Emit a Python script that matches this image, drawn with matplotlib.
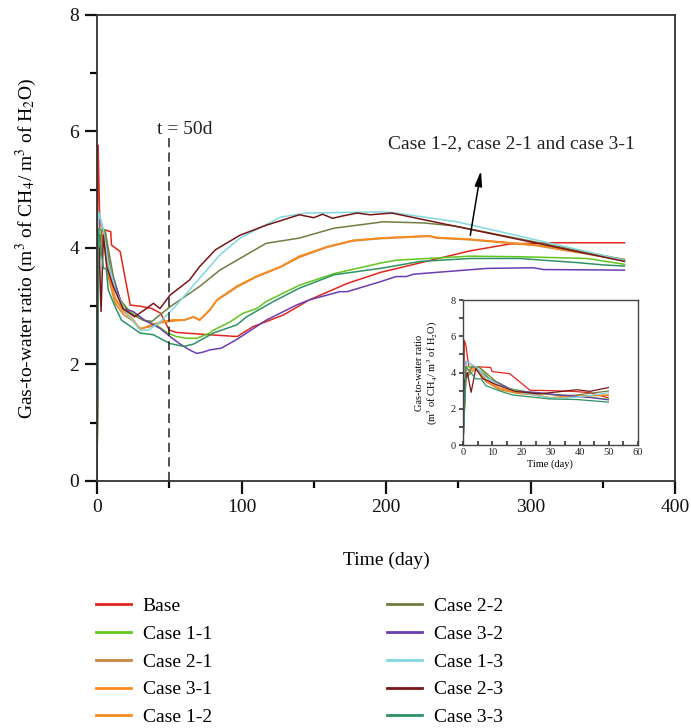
import matplotlib
matplotlib.use("Agg")
import matplotlib.pyplot as plt
from matplotlib.patches import Rectangle
from matplotlib.ticker import MultipleLocator

plt.rcParams['font.family'] = ['Liberation Serif', 'DejaVu Serif']
plt.rcParams['mathtext.fontset'] = 'stix'

# data (time in days, ratio)
base_t = [0, 0.5, 1, 2, 5.5, 9.5, 10, 16, 23, 30, 38, 44, 50, 55, 78, 97, 108, 129, 147, 173, 196, 258, 286, 315, 365]
base_v = [0, 5.77, 5.5, 4.31, 4.31, 4.28, 4.05, 3.94, 3.02, 3.00, 2.96, 2.88, 2.59, 2.55, 2.51, 2.48, 2.65, 2.85, 3.11, 3.39, 3.58, 3.95, 4.07, 4.09, 4.09]

c11_t = [0, 1, 5.5, 9, 16, 22.8, 32, 41, 49, 55, 62, 69, 78, 80.5, 92, 101, 110.5, 117, 140, 164, 196, 207, 258, 293, 339, 365]
c11_v = [0, 4.33, 4.31, 3.68, 3.11, 2.91, 2.76, 2.68, 2.54, 2.48, 2.45, 2.45, 2.54, 2.59, 2.73, 2.88, 2.96, 3.08, 3.36, 3.56, 3.74, 3.79, 3.86, 3.85, 3.82, 3.72]

c21_t = [0, 1, 4.4, 7.8, 12.5, 18.2, 24, 29.8, 35.5, 44.7, 54, 60, 66.7, 71, 78, 83, 97, 110, 127, 140, 159, 177, 196, 230, 235, 258, 304, 365]
c21_v = [0, 3.7, 4.22, 3.50, 3.05, 2.86, 2.76, 2.62, 2.64, 2.72, 2.75, 2.76, 2.81, 2.76, 2.93, 3.10, 3.33, 3.50, 3.67, 3.84, 4.01, 4.12, 4.16, 4.20, 4.17, 4.14, 4.04, 3.79]

c31_t = [0, 1, 4.4, 7.8, 12.5, 18.2, 24, 29.8, 35.5, 44.7, 54, 60, 66.7, 71, 78, 83, 97, 110, 127, 140, 159, 177, 196, 230, 235, 258, 304, 365]
c31_v = [0, 3.9, 4.29, 3.57, 3.11, 2.91, 2.79, 2.60, 2.66, 2.73, 2.76, 2.76, 2.82, 2.76, 2.94, 3.11, 3.34, 3.51, 3.68, 3.85, 4.02, 4.13, 4.17, 4.21, 4.18, 4.15, 4.05, 3.80]

c12_t = [0, 1, 4.4, 7.8, 12.5, 18.2, 24, 29.8, 35.5, 44.7, 54, 60, 66.7, 71, 78, 83, 97, 110, 127, 140, 159, 177, 196, 230, 235, 258, 304, 365]
c12_v = [0, 4.1, 4.32, 3.62, 3.15, 2.93, 2.80, 2.61, 2.66, 2.74, 2.77, 2.76, 2.82, 2.77, 2.94, 3.11, 3.35, 3.51, 3.68, 3.86, 4.02, 4.13, 4.17, 4.21, 4.18, 4.15, 4.05, 3.80]

c22_t = [0, 1, 3, 5.5, 11.3, 16, 22.8, 32, 38, 50.5, 64, 71, 85, 101, 117, 140, 164, 189, 198, 226, 247, 365]
c22_v = [0, 3.6, 4.3, 4.31, 3.51, 3.11, 2.88, 2.76, 2.74, 2.99, 3.22, 3.34, 3.62, 3.85, 4.08, 4.17, 4.34, 4.42, 4.45, 4.43, 4.38, 3.80]

c32_t = [0, 1, 4.4, 9, 18.2, 25, 33, 43.6, 50.5, 57, 64, 69, 73, 78, 86, 96.7, 117, 138, 147, 168, 173, 196, 207, 214, 219, 270, 302, 309, 365]
c32_v = [0, 4.62, 4.29, 3.62, 2.96, 2.91, 2.76, 2.62, 2.48, 2.36, 2.25, 2.19, 2.21, 2.25, 2.28, 2.43, 2.76, 3.02, 3.11, 3.25, 3.25, 3.42, 3.51, 3.51, 3.55, 3.65, 3.66, 3.63, 3.62]

c13_t = [0, 1, 4.4, 7.8, 13.6, 20.5, 29.8, 35.5, 43.6, 52.8, 64, 71, 85, 99, 120, 127, 145, 196, 204, 249, 365]
c13_v = [0, 4.62, 4.31, 3.74, 3.22, 2.88, 2.59, 2.59, 2.73, 2.96, 3.28, 3.48, 3.88, 4.17, 4.44, 4.53, 4.60, 4.62, 4.61, 4.45, 3.79]

c23_t = [0, 0.5, 1.5, 2.8, 4.4, 6.7, 11.3, 18, 26, 33, 39, 43.6, 50.5, 64, 71, 82, 99, 117, 140, 150, 156, 163, 170, 180, 189, 204, 365]
c23_v = [0, 3.5, 4.0, 2.91, 4.22, 3.68, 3.34, 2.96, 2.82, 2.94, 3.05, 2.96, 3.19, 3.45, 3.68, 3.97, 4.22, 4.39, 4.57, 4.52, 4.58, 4.51, 4.55, 4.60, 4.57, 4.60, 3.77]

c33_t = [0, 1, 4.4, 6.3, 7.8, 12.5, 17, 21.7, 29.8, 39, 50.5, 60, 66.7, 80.5, 96.7, 103.6, 122, 140, 164, 196, 224, 258, 293, 309, 332, 350, 365]
c33_v = [0, 4.33, 3.65, 3.65, 3.28, 2.99, 2.76, 2.68, 2.54, 2.51, 2.36, 2.31, 2.35, 2.54, 2.68, 2.82, 3.08, 3.31, 3.54, 3.65, 3.77, 3.82, 3.82, 3.79, 3.75, 3.71, 3.69]

labels = ['Base', 'Case 1-1', 'Case 2-1', 'Case 3-1', 'Case 1-2',
          'Case 2-2', 'Case 3-2', 'Case 1-3', 'Case 2-3', 'Case 3-3']
series = [(base_t, base_v), (c11_t, c11_v), (c21_t, c21_v), (c31_t, c31_v), (c12_t, c12_v),
          (c22_t, c22_v), (c32_t, c32_v), (c13_t, c13_v), (c23_t, c23_v), (c33_t, c33_v)]
colors = ['#e2261c', '#62c61e', '#c98640', '#ff8a1c', '#f78c20',
          '#717d3f', '#6a3db3', '#82d8e0', '#7a1518', '#2e9266']

FS = 14

fig = plt.figure(figsize=(6.91, 7.28), dpi=100)
ax = fig.add_axes([0.1404, 0.3393, 0.8365, 0.6401])

lines = []
for (t, v), c, lab in zip(series, colors, labels):
    ln, = ax.plot(t, v, color=c, lw=1.1, label=lab)
    lines.append(ln)

ax.plot([50, 50], [0, 5.95], color='#222222', lw=1.1, dashes=(6, 3.5))
ax.text(61, 6.03, 't = 50d', fontsize=FS, ha='center', va='center', color='#222222')
ax.text(287, 5.8, 'Case 1-2, case 2-1 and case 3-1', fontsize=FS, ha='center', va='center', color='#222222')
ax.annotate('', xy=(266, 5.37), xytext=(258, 4.17),
            arrowprops=dict(arrowstyle='-|>,head_length=0.9,head_width=0.22', color='black', lw=1.1))

ax.set_xlim(0, 400)
ax.set_ylim(0, 8)
ax.xaxis.set_major_locator(MultipleLocator(100))
ax.xaxis.set_minor_locator(MultipleLocator(50))
ax.yaxis.set_major_locator(MultipleLocator(2))
ax.yaxis.set_minor_locator(MultipleLocator(1))
ax.tick_params(which='major', direction='out', length=9, width=1.6, labelsize=FS, colors='#111111', pad=4)
ax.tick_params(which='minor', direction='out', length=5, width=1.6)
for s in ax.spines.values():
    s.set_linewidth(1.3)
    s.set_color('#333333')
ax.set_xlabel('Time (day)', fontsize=FS, labelpad=26)
ax.set_ylabel('Gas-to-water ratio (m$^3$ of CH$_4$/ m$^3$ of H$_2$O)', fontsize=FS, labelpad=22)

# inset with the first 50 days
ins = fig.add_axes([0.670, 0.3887, 0.253, 0.1992])
for (t, v), c in zip(series, colors):
    ln, = ins.plot(t, v, color=c, lw=0.9)
    ln.set_clip_path(Rectangle((0, 0), 50, 8, transform=ins.transData))
ins.set_xlim(0, 60)
ins.set_ylim(0, 8)
ins.xaxis.set_major_locator(MultipleLocator(10))
ins.xaxis.set_minor_locator(MultipleLocator(5))
ins.yaxis.set_major_locator(MultipleLocator(2))
ins.yaxis.set_minor_locator(MultipleLocator(1))
ins.tick_params(axis='y', which='both', direction='out', length=3, width=1.1, labelsize=7.5, pad=2, colors='#222222')
ins.tick_params(axis='x', which='both', direction='in', length=3, width=1.1, labelsize=7.5, pad=2, colors='#222222')
for s in ins.spines.values():
    s.set_linewidth(1.0)
    s.set_color('#444444')
ins.set_xlabel('Time (day)', fontsize=7.5, labelpad=2)
ins.set_ylabel('Gas-to-water ratio\n(m$^3$ of CH$_4$/ m$^3$ of H$_2$O)', fontsize=7.5, labelpad=8, linespacing=1.1)

leg = fig.legend(handles=lines, ncol=2, loc='upper left', bbox_to_anchor=(0.139, 0.179),
                 frameon=False, fontsize=FS, handlelength=1.8, handletextpad=0.6,
                 labelspacing=0.52, columnspacing=9.0, borderpad=0, borderaxespad=0)
for l in leg.get_lines():
    l.set_linewidth(2.0)

fig.savefig('out.png', dpi=100)
